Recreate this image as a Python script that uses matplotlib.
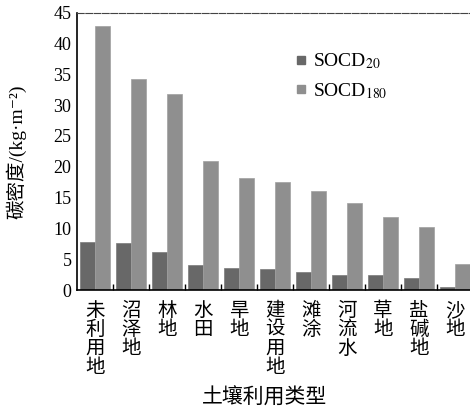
import numpy as np
import matplotlib.pyplot as plt
from matplotlib.lines import Line2D

plt.rcParams['font.family'] = ['Liberation Serif', 'Noto Sans CJK SC', 'DejaVu Serif']
plt.rcParams['mathtext.fontset'] = 'stix'

# land use types and carbon density values (kg/m2)
land_types = ["未利用地", "沼泽地", "林地", "水田", "旱地", "建设用地",
              "滩涂", "河流水", "草地", "盐碱地", "沙地"]
socd20 = [7.8, 7.7, 6.1, 4.1, 3.5, 3.4, 3.0, 2.5, 2.4, 1.9, 0.5]
socd180 = [42.8, 34.3, 31.8, 21.0, 18.1, 17.6, 16.1, 14.1, 11.9, 10.3, 4.3]
y_ticks = [0, 5, 10, 15, 20, 25, 30, 35, 40, 45]

dark = "#686868"
light = "#8f8f8f"

fig = plt.figure(figsize=(4.7, 4.11), dpi=100)
ax = fig.add_axes([77 / 470, 1 - 290 / 411, 1 - 77 / 470, (290 - 12.7) / 411])

x = np.arange(len(land_types))
w = 0.42
ax.bar(x - w / 2, socd20, width=w, color=dark, edgecolor="#7a7a7a", linewidth=0.5)
ax.bar(x + w / 2, socd180, width=w, color=light, edgecolor="#a0a0a0", linewidth=0.5)

ax.set_xlim(-0.5, 10.42)
ax.set_ylim(0, 45)
ax.set_yticks(y_ticks)
ax.tick_params(axis='y', labelsize=13, direction='in', length=0, pad=4)

ax.set_xticks(x)
ax.set_xticklabels(["\n".join(s) for s in land_types], fontsize=14,
                   va='top', linespacing=0.88, family=['Noto Sans CJK SC'])
ax.tick_params(axis='x', length=0, pad=7)
ax.set_xticks(x[:-1] + 0.5, minor=True)
ax.tick_params(axis='x', which='minor', direction='in', length=4, width=1)

ax.spines['right'].set_visible(False)
ax.spines['top'].set_linestyle((0, (6, 1.5)))
ax.spines['top'].set_color("#444444")
ax.spines['left'].set_linewidth(1.2)
ax.spines['bottom'].set_linewidth(1.2)

fig.text(16 / 470, 1 - 152 / 411, "碳密度/(kg·m⁻²)", fontsize=14, rotation=90,
         ha='center', va='center')
fig.text(265 / 470, 1 - 398 / 411, "土壤利用类型", fontsize=15, ha='center', va='center',
         family=['Noto Sans CJK SC'])

handles = [Line2D([], [], marker='s', linestyle='none', markersize=6, color=dark),
           Line2D([], [], marker='s', linestyle='none', markersize=6, color=light)]
ax.legend(handles, [r"SOCD$_{20}$", r"SOCD$_{180}$"], frameon=False, fontsize=14,
          loc='upper left', bbox_to_anchor=(278 / 470, 1 - 34 / 411),
          bbox_transform=fig.transFigure, handlelength=0.6, handletextpad=0.3,
          labelspacing=0.5)

fig.savefig("out.png", dpi=100)
